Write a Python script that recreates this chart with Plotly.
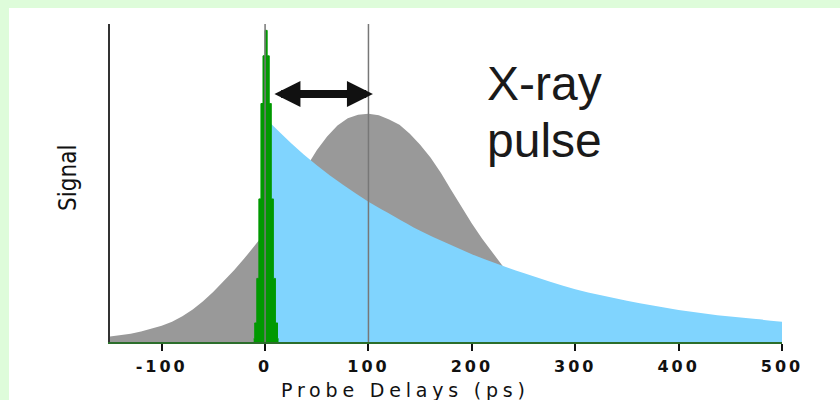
import plotly.graph_objects as go

# ---------------- data ----------------
# X-ray pulse (gray), probe delays in ps vs normalized signal
xray_x = [-150, -140, -130, -120, -110, -100, -90, -80, -70, -60, -50, -40, -30, -20, -10, 0,
          10, 20, 30, 40, 50, 60, 70, 80, 90, 100, 110, 120, 130, 140, 150, 160, 170, 180, 190,
          200, 210, 220, 230, 240, 260, 280, 300]
xray_y = [0.017, 0.021, 0.026, 0.033, 0.041, 0.051, 0.064, 0.081, 0.102, 0.128, 0.158, 0.191, 0.226,
          0.263, 0.302, 0.344, 0.392, 0.445, 0.500, 0.553, 0.603, 0.646, 0.681, 0.704, 0.715, 0.718,
          0.713, 0.700, 0.683, 0.655, 0.620, 0.580, 0.532, 0.478, 0.425, 0.373, 0.325, 0.280, 0.238,
          0.195, 0.125, 0.075, 0.040]

# decaying response (light blue)
decay_x = [0, 25, 50, 75, 100, 125, 150, 175, 200, 225, 250, 275, 300, 325, 350, 375, 400, 425, 450, 475, 500]
decay_y = [0.705, 0.626, 0.556, 0.495, 0.441, 0.395, 0.350, 0.312, 0.276, 0.245, 0.217, 0.190, 0.166,
           0.147, 0.130, 0.115, 0.101, 0.090, 0.080, 0.072, 0.064]

# laser pulse (green)
laser_x = [-11, -9, -7, -5, -3, -1, 1, 3, 5, 7, 9, 11, 13]
laser_y = [0.01, 0.06, 0.20, 0.45, 0.75, 0.90, 0.98, 0.90, 0.75, 0.45, 0.20, 0.06, 0.01]

tick_vals = [-100, 0, 100, 200, 300, 400, 500]
tick_text = ["-100", "0", "100", "200", "300", "400", "500"]
marker_lines = [0, 100]
arrow_from, arrow_to, arrow_level = 7.6, 104.3, 0.78
x_range = [-150, 500]


def wide(s, sp):
    return '<span style="letter-spacing:%spx">%s</span>' % (sp, s)


fig = go.Figure()
fig.add_trace(go.Scatter(x=xray_x, y=xray_y, mode="lines",
                         line=dict(color="#999999", width=0, shape="linear"),
                         fill="tozeroy", fillcolor="#999999", hoverinfo="skip"))
fig.add_trace(go.Scatter(x=decay_x, y=decay_y, mode="lines", line=dict(color="#80D4FE", width=0, shape="spline"),
                         fill="tozeroy", fillcolor="#80D4FE", hoverinfo="skip"))
fig.add_trace(go.Scatter(x=laser_x, y=laser_y, mode="lines", line=dict(color="#009900", width=1, shape="hvh"),
                         fill="tozeroy", fillcolor="#009900", hoverinfo="skip"))

shapes = [
    # white panel on the green page
    dict(type="rect", xref="paper", yref="paper", x0=-0.1503, x1=1.0863, y0=-0.1824, y1=1.0503,
         fillcolor="white", line=dict(width=0), layer="below"),
]
for v in marker_lines:
    shapes.append(dict(type="line", xref="x", yref="paper", x0=v, x1=v, y0=0, y1=1,
                       line=dict(color="#777777", width=1.5), layer="above"))

annotations = [
    dict(x=arrow_to, y=arrow_level, ax=arrow_from, ay=arrow_level, xref="x", yref="y", axref="x", ayref="y",
         text="", showarrow=True, arrowhead=2, startarrowhead=2, arrowside="end+start",
         arrowsize=0.65, startarrowsize=0.65, arrowwidth=8, arrowcolor="#111111", standoff=0, startstandoff=0),
    dict(x=212.5, y=0.814, xref="x", yref="y", text="X-ray", showarrow=False, xanchor="left", yanchor="middle",
         font=dict(family="Liberation Sans, Arial", size=48, color="#1a1a1a")),
    dict(x=212.5, y=0.635, xref="x", yref="y", text="pulse", showarrow=False, xanchor="left", yanchor="middle",
         font=dict(family="Liberation Sans, Arial", size=48, color="#1a1a1a")),
    dict(x=135.5, y=-0.150, xref="x", yref="paper", text=wide("Probe Delays (ps)", 4.8), showarrow=False,
         xanchor="center", yanchor="middle",
         font=dict(family="DejaVu Sans", size=19, color="#111111")),
    dict(x=-0.0625, y=0.516, xref="paper", yref="paper", text="Signal", showarrow=False, textangle=-90,
         xanchor="center", yanchor="middle",
         font=dict(family="Liberation Sans Narrow, Arial Narrow, DejaVu Sans Condensed, Liberation Sans",
                   size=24, color="#111111")),
]

fig.update_layout(
    width=840, height=400,
    margin=dict(l=110, r=58, t=24, b=58),
    paper_bgcolor="#DEFCDA", plot_bgcolor="white",
    showlegend=False,
    shapes=shapes, annotations=annotations,
    xaxis=dict(range=x_range, tickvals=tick_vals, ticktext=[wide(t, 3) for t in tick_text], ticks="outside",
               ticklen=7, tickwidth=1.5, tickcolor="#111111", showline=True, linecolor="#2b6e2b", linewidth=2,
               showgrid=False, zeroline=False, ticklabelstandoff=2,
               tickfont=dict(family="DejaVu Sans", size=16, color="#111111", weight="bold")),
    yaxis=dict(range=[0, 1], showline=True, linecolor="#333333", linewidth=2, showticklabels=False,
               ticks="", showgrid=False, zeroline=False),
)

fig.write_html("out.html")
